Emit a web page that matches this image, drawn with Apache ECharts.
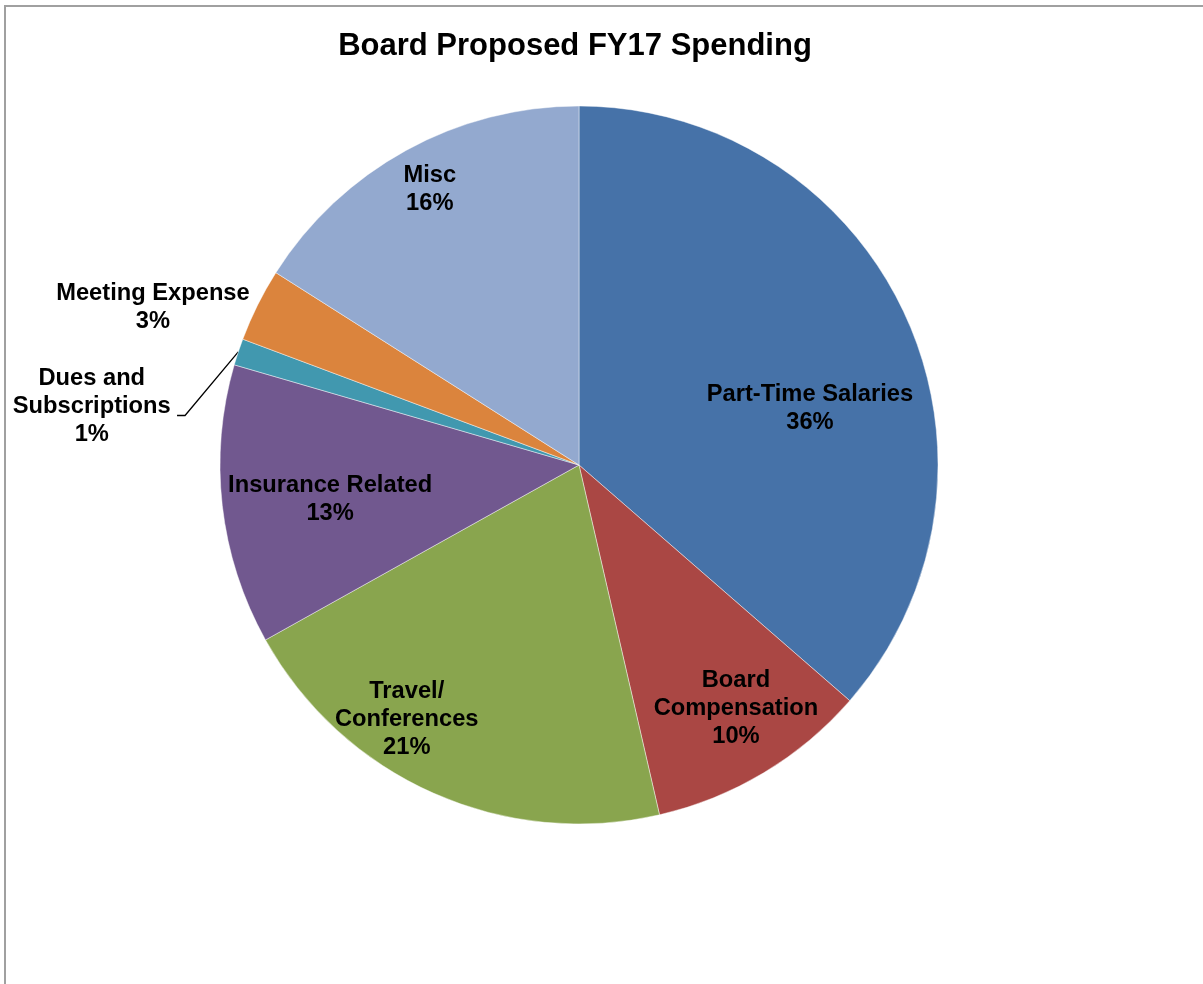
<!DOCTYPE html>
<html>
<head>
<meta charset="utf-8">
<title>Board Proposed FY17 Spending</title>
<script src="https://cdn.jsdelivr.net/npm/echarts@6/dist/echarts.min.js"></script>
<style>
  html, body { margin: 0; padding: 0; background: #fff; }
  #chart { width: 1203px; height: 984px; }
</style>
</head>
<body>
<div id="chart"></div>
<script>
// Spending categories (clockwise from 12 o'clock) and their shares of the budget
const categories = [
  'Part-Time Salaries',
  'Board\nCompensation',
  'Travel/\nConferences',
  'Insurance Related',
  'Dues and\nSubscriptions',
  'Meeting Expense',
  'Misc'
];
const shares = [36.4, 10.0, 20.5, 12.6, 1.2, 3.3, 16.0];
const sliceColors = ['#4672A8', '#AA4744', '#89A54E', '#71588F', '#4198AF', '#DB843D', '#93A9CF'];

// Pie geometry
const CX = 579, CY = 465, R = 359;
// Label placement per slice: angular shift from the slice bisector (deg) and distance as a fraction of R
const labelShift = [10.8, -1.8, 10.2, -1.5, -11.5, -6.2, 0.4];
const labelReach = [0.662, 0.808, 0.855, 0.700, 1.367, 1.265, 0.874];
// Bend of the leader line for the small slice
const leaderBend = { shift: -11.2, reach: 1.106, tail: 8 };

const FONT = "'Liberation Sans', Arial, Helvetica, sans-serif";

const total = shares.reduce((a, b) => a + b, 0);
const midAngles = [];
(function () {
  let start = 0;
  shares.forEach(v => {
    const span = v / total * 360;
    midAngles.push(start + span / 2);
    start += span;
  });
})();

function polar(angleDeg, dist) {
  const t = angleDeg * Math.PI / 180;
  return [CX + dist * Math.sin(t), CY - dist * Math.cos(t)];
}

const pieData = categories.map((name, i) => {
  const item = { name: name, value: shares[i], itemStyle: { color: sliceColors[i] } };
  if (i === 4) {
    item.label = { position: 'outside' };
    item.labelLine = { show: true, lineStyle: { color: '#000', width: 1.3 } };
  } else if (i === 5) {
    item.label = { position: 'outside' };
    item.labelLine = { show: false };
  }
  return item;
});

const chart = echarts.init(document.getElementById('chart'), null, { renderer: 'canvas' });

chart.setOption({
  animation: false,
  backgroundColor: '#ffffff',
  title: {
    text: 'Board Proposed FY17 Spending',
    left: 570,
    top: 26,
    textAlign: 'center',
    textStyle: { fontFamily: FONT, fontSize: 31, fontWeight: 'bold', color: '#000' }
  },
  graphic: [{
    type: 'rect',
    shape: { x: 5, y: 6, width: 1220, height: 1000 },
    style: { fill: 'none', stroke: '#a0a0a0', lineWidth: 2 },
    silent: true
  }],
  series: [{
    type: 'pie',
    center: [CX, CY],
    radius: R,
    startAngle: 90,
    clockwise: true,
    percentPrecision: 0,
    avoidLabelOverlap: false,
    emphasis: { disabled: true },
    itemStyle: { borderColor: 'rgba(255,255,255,0.55)', borderWidth: 0.8 },
    label: {
      show: true,
      position: 'inside',
      formatter: '{b}\n{d}%',
      fontFamily: FONT,
      fontSize: 23.7,
      fontWeight: 'bold',
      color: '#000',
      lineHeight: 28,
      align: 'center'
    },
    labelLine: { show: false },
    labelLayout: function (params) {
      const i = params.dataIndex;
      const p = polar(midAngles[i] + labelShift[i], R * labelReach[i]);
      const out = { x: p[0], y: p[1], align: 'center', verticalAlign: 'middle' };
      if (i === 4) {
        const edge = polar(midAngles[i], R);
        const bend = polar(midAngles[i] + leaderBend.shift, R * leaderBend.reach);
        out.labelLinePoints = [edge, bend, [bend[0] - leaderBend.tail, bend[1]]];
      }
      return out;
    },
    data: pieData
  }]
});
</script>
</body>
</html>
